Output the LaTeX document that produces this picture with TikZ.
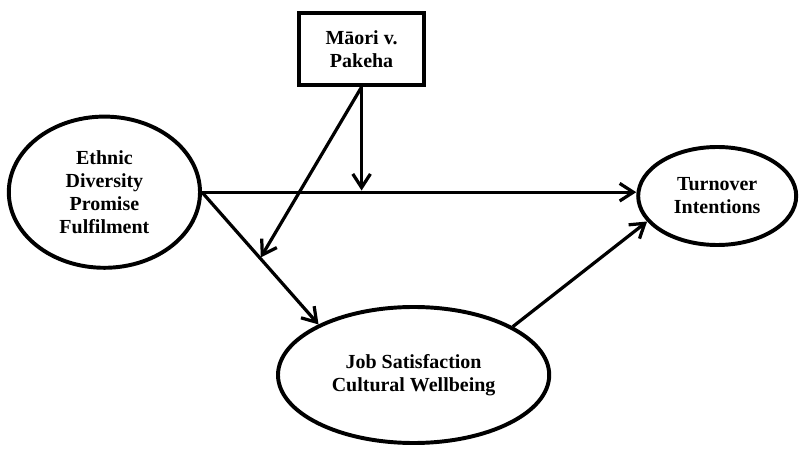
\documentclass[tikz,border=0pt]{standalone}
\usepackage{fontspec}
\setmainfont{Liberation Serif}
\usetikzlibrary{shapes.geometric,arrows.meta}

\begin{document}
\begin{tikzpicture}[
		construct/.style={shape=ellipse,draw=black,line width=2.8pt,inner sep=0pt,align=center,font=\bfseries\fontsize{14.2}{16.3}\selectfont},
		group/.style={shape=rectangle,draw=black,line width=2.8pt,inner sep=0pt,align=center,font=\bfseries\fontsize{14.2}{16.3}\selectfont},
		arr/.style={line width=2.3pt,-{Straight Barb[length=3.4mm,width=4.4mm]}}
	]

		\useasboundingbox (0,0) rectangle (20,11.225);

		\node[group,minimum width=3.125cm,minimum height=1.8cm] (m) at (9.04,10.0) {Māori v.\\Pakeha};
		\node[construct,minimum width=4.78cm,minimum height=3.78cm] (e) at (2.61,6.42) {Ethnic\\Diversity\\Promise\\Fulfilment};
		\node[construct,minimum width=3.95cm,minimum height=2.45cm] (t) at (17.93,6.325) {Turnover\\Intentions};
		\node[construct,minimum width=6.78cm,minimum height=3.4cm] (j) at (10.34,1.85) {Job Satisfaction\\Cultural Wellbeing};

		\coordinate (r) at (e.east -| t.west);
		\draw[arr] (e.east) -- (r);
		\draw[arr] (e.east) -- coordinate[pos=0.5] (d) (j.152);
		\draw[arr] (j.26) -- (t.200);

		\coordinate (h) at (m.south |- e.east);
		\draw[arr,shorten >=1.2pt] (m.south) -- (h);
		\draw[arr,shorten >=0.8pt] (m.south) -- (d);
\end{tikzpicture}
\end{document}
